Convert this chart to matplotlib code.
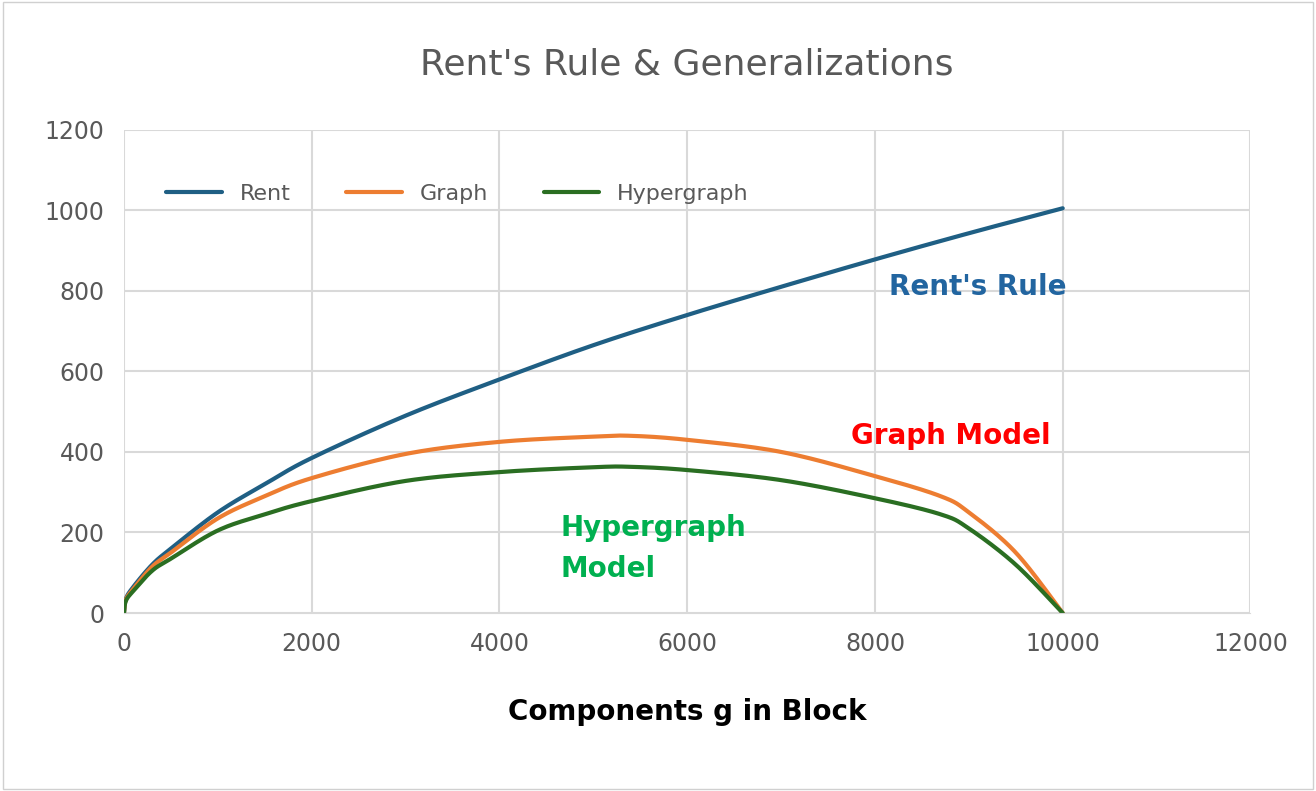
import matplotlib
matplotlib.use("Agg")
import matplotlib.pyplot as plt
import numpy as np
from matplotlib.patches import Rectangle

rent_x = [0, 20, 100, 300, 500, 1000, 1500, 2000, 3000, 4000, 5000, 6000, 7000, 8000, 9000, 10000]
rent_y = [0, 35, 65, 120, 160, 250, 320, 385, 490, 580, 665, 740, 810, 878, 943, 1005]
graph_x = [0, 20, 100, 300, 500, 1000, 1500, 2000, 3000, 4000, 5000, 5400, 6000, 7000, 8000, 8700, 9000, 9500, 10000]
graph_y = [0, 33, 60, 115, 150, 235, 290, 335, 395, 425, 438, 440, 430, 400, 340, 290, 250, 150, 0]
hyper_x = [0, 20, 100, 300, 500, 1000, 1500, 2000, 3000, 4000, 5000, 5400, 6000, 7000, 8000, 8700, 9000, 9500, 10000]
hyper_y = [0, 30, 55, 105, 135, 205, 245, 278, 328, 350, 362, 363, 355, 330, 285, 245, 210, 120, 0]


def smooth(xs, ys, n=30):
    """Catmull-Rom rendering of the points (like Excel's smoothed line)."""
    p = np.column_stack([xs, ys]).astype(float)
    p = np.vstack([p[0], p, p[-1]])
    out = []
    t = np.linspace(0, 1, n, endpoint=False)[:, None]
    for i in range(1, len(p) - 2):
        p0, p1, p2, p3 = p[i - 1], p[i], p[i + 1], p[i + 2]
        seg = 0.5 * ((2 * p1) + (-p0 + p2) * t + (2 * p0 - 5 * p1 + 4 * p2 - p3) * t ** 2
                     + (-p0 + 3 * p1 - 3 * p2 + p3) * t ** 3)
        out.append(seg)
    out.append(p[-2][None, :])
    out = np.vstack(out)
    return out[:, 0], out[:, 1]


fig = plt.figure(figsize=(13.16, 7.91), dpi=100)
fig.patches.append(Rectangle((0.002, 0.002), 0.996, 0.996, transform=fig.transFigure,
                             fill=False, edgecolor="#d0d0d0", lw=1))
ax = fig.add_axes([0.0942, 0.225, 0.856, 0.611])
for xs, ys, c, lab in [(rent_x, rent_y, "#1f5f84", "Rent"),
                       (graph_x, graph_y, "#ED7D31", "Graph"),
                       (hyper_x, hyper_y, "#2a6e22", "Hypergraph")]:
    sx, sy = smooth(xs, ys)
    ax.plot(sx, sy, color=c, lw=3, label=lab, solid_capstyle="round")
ax.set_xlim(0, 12000)
ax.set_ylim(0, 1200)
ax.set_xticks(range(0, 12001, 2000))
ax.set_yticks(range(0, 1201, 200))
ax.grid(True, color="#d9d9d9", lw=1.5)
ax.set_axisbelow(True)
for s in ["top", "right", "left"]:
    ax.spines[s].set_visible(False)
ax.spines["bottom"].set_color("#d9d9d9")
ax.tick_params(length=0, labelsize=17, labelcolor="#595959", pad=14)
ax.set_xlabel("Components g in Block", fontsize=20, fontweight="bold", labelpad=30)
ax.set_title("Rent's Rule & Generalizations", fontsize=26, color="#595959", pad=40)
ax.legend(loc="upper left", ncol=3, frameon=False, fontsize=16, labelcolor="#595959",
          bbox_to_anchor=(0.02, 0.93), columnspacing=2.5, handlelength=2.5)
ax.text(8150, 790, "Rent's Rule", color="#2265a0", fontsize=20, fontweight="bold")
ax.text(7750, 420, "Graph Model", color="#ff0000", fontsize=20, fontweight="bold")
ax.text(4650, 90, "Hypergraph\nModel", color="#00b050", fontsize=20, fontweight="bold",
        linespacing=1.6)
fig.savefig("out.png", dpi=100)
